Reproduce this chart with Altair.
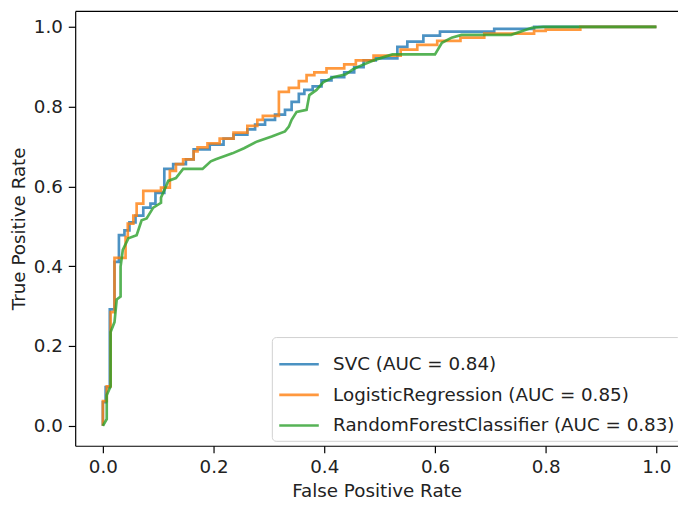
import altair as alt
import pandas as pd

models = ["SVC (AUC = 0.84)", "LogisticRegression (AUC = 0.85)", "RandomForestClassifier (AUC = 0.83)"]
colors = ["#1f77b4", "#ff7f0e", "#2ca02c"]

svc_fpr = [0, 0, .005, .005, .0125, .0125, .021, .021, .029, .029, .039, .039, .048, .048, .059, .059,
           .073, .073, .086, .086, .095, .095, .111, .111, .127, .127, .150, .150, .164, .164, .193, .193,
           .218, .218, .236, .236, .261, .261, .275, .275, .293, .293, .311, .311, .329, .329, .341, .341,
           .354, .354, .364, .364, .379, .379, .395, .395, .413, .413, .436, .436, .454, .454, .471, .471,
           .493, .493, .532, .532, .55, .55, .579, .579, .609, .609, .707, .707, .779, .779, 1.0]
svc_tpr = [0, .059, .059, .097, .097, .292, .292, .411, .411, .478, .478, .490, .490, .510, .510, .527,
           .527, .547, .547, .557, .557, .584, .584, .644, .644, .656, .656, .668, .668, .693, .693, .705,
           .705, .720, .720, .730, .730, .743, .743, .755, .755, .767, .767, .780, .780, .792, .792, .812,
           .812, .832, .832, .842, .842, .851, .851, .866, .866, .874, .874, .886, .886, .899, .899, .916,
           .916, .921, .921, .950, .950, .963, .963, .978, .978, .988, .988, .995, .995, 1.0, 1.0]

lr_fpr = [0, 0, .007, .007, .014, .014, .021, .021, .041, .041, .045, .045, .055, .055, .061, .061,
          .073, .073, .105, .105, .121, .121, .132, .132, .145, .145, .164, .164, .171, .171, .189, .189,
          .211, .211, .236, .236, .261, .261, .279, .279, .289, .289, .318, .318, .336, .336, .354, .354,
          .368, .368, .382, .382, .404, .404, .436, .436, .457, .457, .489, .489, .538, .538, .568, .568,
          .604, .604, .646, .646, .689, .689, .779, .779, .8, .8, .8625, .8625, 1.0]
lr_tpr = [0, .062, .062, .099, .099, .285, .285, .421, .421, .473, .473, .507, .507, .527, .527, .557,
          .557, .589, .589, .597, .597, .639, .639, .656, .656, .668, .668, .688, .688, .698, .698, .708,
          .708, .720, .720, .735, .735, .752, .752, .767, .767, .777, .777, .837, .837, .847, .847, .864,
          .864, .879, .879, .886, .886, .896, .896, .906, .906, .916, .916, .928, .928, .943, .943, .955,
          .955, .965, .965, .973, .973, .983, .983, .990, .990, .993, .993, 1.0, 1.0]

rf_fpr = [0, .007, .007, .014, .014, .021, .025, .032, .032, .036, .046, .061, .070, .079, .091, .105,
          .105, .113, .118, .132, .145, .180, .195, .204, .234, .255, .279, .305, .329, .336, .341, .350,
          .368, .373, .386, .398, .416, .439, .452, .471, .493, .523, .6, .6125, .630, .648, .7375, .775,
          .796, 1.0]
rf_tpr = [0, .017, .077, .099, .235, .26, .317, .324, .399, .441, .470, .478, .515, .520, .547, .559,
          .572, .597, .614, .621, .644, .644, .663, .668, .683, .696, .713, .725, .738, .750, .767, .787,
          .792, .829, .842, .861, .874, .881, .894, .906, .918, .931, .931, .960, .973, .980, .980, .998,
          1.0, 1.0]

x_ticks = [0.0, 0.2, 0.4, 0.6, 0.8, 1.0]
y_ticks = [0.0, 0.2, 0.4, 0.6, 0.8, 1.0]


def frame(name, fpr, tpr):
    return pd.DataFrame({"model": name, "fpr": fpr, "tpr": tpr, "i": range(len(fpr))})


frames = [frame(models[0], svc_fpr, svc_tpr),
          frame(models[1], lr_fpr, lr_tpr),
          frame(models[2], rf_fpr, rf_tpr)]

xscale = alt.Scale(domain=[-0.05, 1.039], nice=False, zero=False)
yscale = alt.Scale(domain=[-0.05, 1.04], nice=False, zero=False)
cscale = alt.Scale(domain=models, range=colors)

legend = alt.Legend(
    title=None, orient="none", legendX=199, legendY=330,
    symbolType="stroke", symbolSize=1600, symbolStrokeWidth=2.7, symbolOpacity=0.8,
    labelFontSize=18.5, labelFont="DejaVu Sans", labelColor="#222222", labelOffset=13,
    labelLimit=500, rowPadding=0,
    strokeColor="#d0d0d0", fillColor="white", padding=6, cornerRadius=4,
)

layers = []
for k, df in enumerate(frames):
    if k == 0:
        enc_x = alt.X("fpr:Q", scale=xscale,
                      axis=alt.Axis(values=x_ticks, format=".1f", title="False Positive Rate",
                                    grid=False, tickSize=7, labelPadding=5, titlePadding=6))
        enc_y = alt.Y("tpr:Q", scale=yscale,
                      axis=alt.Axis(values=y_ticks, format=".1f", title="True Positive Rate",
                                    grid=False, tickSize=7, labelPadding=6, titlePadding=5))
    else:
        enc_x = alt.X("fpr:Q", scale=xscale, axis=None)
        enc_y = alt.Y("tpr:Q", scale=yscale)
    layers.append(
        alt.Chart(df).mark_line(strokeWidth=2.7, opacity=0.8, interpolate="linear").encode(
            x=enc_x, y=enc_y,
            color=alt.Color("model:N", scale=cscale, legend=legend if k == 0 else None),
            order="i:Q",
        )
    )

top = alt.Chart(frames[0]).mark_line(opacity=0).encode(
    x=alt.X("fpr:Q", scale=xscale,
            axis=alt.Axis(orient="top", labels=False, ticks=False, title=None, grid=False)),
    y=alt.Y("tpr:Q", scale=yscale),
    order="i:Q",
)

chart = alt.layer(*layers, top).resolve_axis(x="independent").properties(
    width=610, height=440,
    autosize=alt.AutoSizeParams(type="none"),
    padding={"left": 68, "top": 0, "right": 0, "bottom": 60},
).configure_view(stroke=None).configure_axis(
    domainColor="black", domainWidth=1.2, tickColor="black", tickWidth=1.2,
    labelFontSize=18.5, titleFontSize=18.5, labelFont="DejaVu Sans", titleFont="DejaVu Sans",
    labelColor="#222222", titleColor="#222222", titleFontWeight="normal",
)

chart.save("out.html", embed_options={"renderer": "svg", "actions": False})
